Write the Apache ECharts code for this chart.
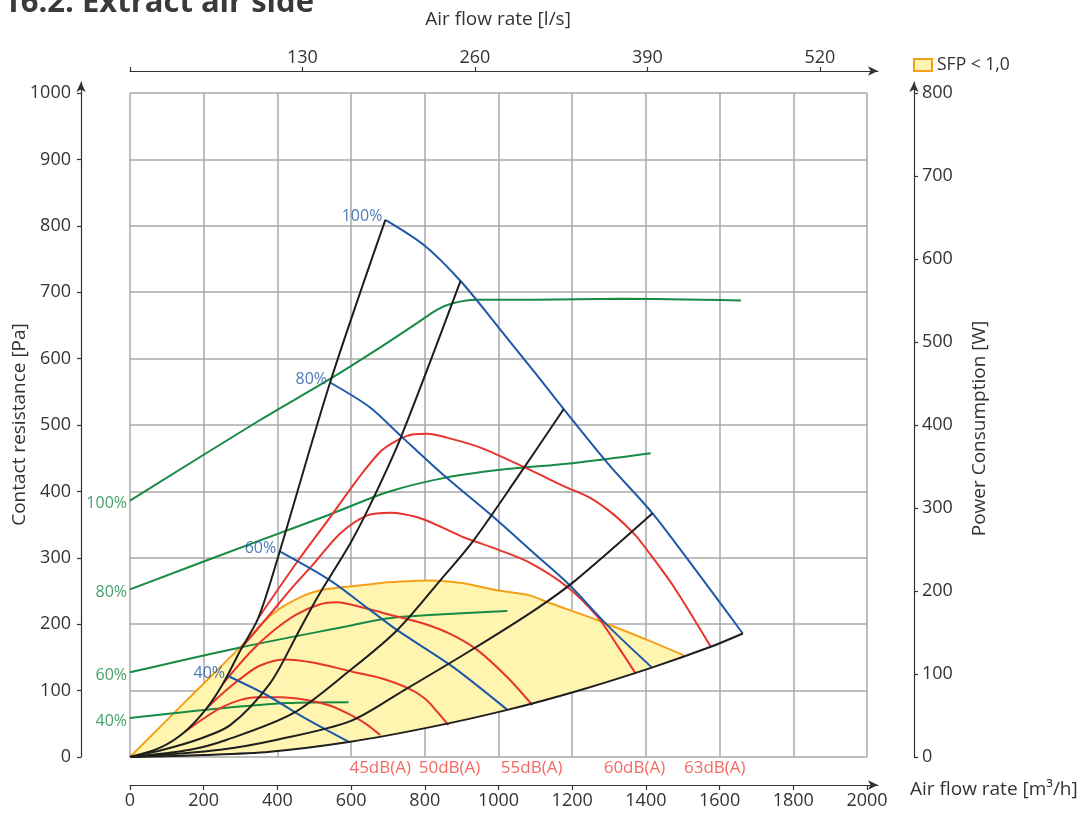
<!DOCTYPE html>
<html>
<head>
<meta charset="utf-8">
<title>16.2. Extract air side</title>
<script src="https://cdn.jsdelivr.net/npm/echarts@6/dist/echarts.min.js"></script>
<style>
    html, body { margin: 0; padding: 0; background: #fff; }
    #chart { width: 1084px; height: 816px; }
</style>
</head>
<body>
<div id="chart"></div>
<script>
    // axis ticks
    const flowTicks = [0, 200, 400, 600, 800, 1000, 1200, 1400, 1600, 1800, 2000]
    const lsTicks = [0, 130, 260, 390, 520]
    const paTicks = [0, 100, 200, 300, 400, 500, 600, 700, 800, 900, 1000]
    const wTicks = [0, 100, 200, 300, 400, 500, 600, 700, 800]

    // fan curves, pressure [Pa] vs flow [m3/h]
    const fan100 = [[693, 809], [800, 770], [900, 715], [1000, 647], [1100, 578], [1177, 524], [1300, 440], [1418, 367], [1540, 278], [1663, 186]]
    const fan80 = [[543, 564], [650, 527], [734, 484], [850, 425], [987, 361], [1100, 305], [1187, 262], [1300, 196], [1416, 135]]
    const fan60 = [[405, 310], [543, 266], [650, 222], [725, 191], [878, 135], [1024, 71]]
    const fan40 = [[266, 122], [372, 93], [470, 60], [593, 23]]
    const fanNames = ['100%', '80%', '60%', '40%']

    // system curves (black)
    const sys1 = [[0, 0], [82, 14], [149, 38], [209, 74], [253, 111], [299, 160], [348, 209], [399, 296], [543, 564], [693, 809]]
    const sys2 = [[0, 0], [90, 11], [182, 26], [272, 48], [380, 111], [454, 185], [508, 240], [598, 322], [652, 380], [734, 480], [897, 717]]
    const sys3 = [[0, 0], [163, 11], [263, 26], [443, 66], [598, 131], [725, 191], [842, 266], [932, 326], [1050, 420], [1177, 524]]
    const sys4 = [[0, 0], [245, 11], [399, 26], [598, 54], [742, 100], [932, 163], [1100, 222], [1209, 266], [1418, 367]]
    const sys5 = [[0, 0], [200, 3], [380, 8], [598, 23], [815, 45], [1024, 71], [1223, 101], [1418, 135], [1576, 166], [1663, 186]]

    // power consumption [W] (green, right axis)
    const pow100 = [[0, 309], [353, 406], [552, 458], [698, 499], [780, 523], [834, 539], [878, 547], [943, 551], [1100, 551], [1332, 552], [1658, 550]]
    const pow80 = [[0, 202], [353, 261], [535, 291], [698, 319], [850, 336], [1005, 346], [1200, 354], [1413, 366]]
    const pow60 = [[0, 102], [299, 132], [606, 159], [698, 167], [850, 172], [1024, 176]]
    const pow40 = [[0, 47], [209, 57], [426, 65], [593, 66]]
    const powNames = ['100%', '80%', '60%', '40%']

    // sound level curves (red)
    const db45 = [[149, 38], [200, 58], [250, 75], [300, 86], [344, 90], [408, 90], [480, 86], [540, 78], [589, 66], [640, 50], [679, 33]]
    const db50 = [[209, 74], [260, 100], [300, 118], [350, 137], [416, 147], [500, 142], [606, 128], [679, 119], [753, 104], [800, 88], [834, 68], [864, 48]]
    const db55 = [[253, 111], [330, 160], [389, 190], [450, 214], [516, 230], [560, 233], [652, 222], [700, 215], [796, 201], [870, 185], [943, 161], [1024, 120], [1092, 78]]
    const db60 = [[299, 162], [380, 215], [440, 255], [497, 290], [571, 337], [644, 364], [707, 368], [780, 361], [850, 345], [905, 331], [1000, 312], [1087, 292], [1187, 256], [1269, 211], [1320, 170], [1372, 126]]
    const db63 = [[348, 209], [454, 294], [543, 361], [620, 420], [680, 460], [725, 477], [770, 486], [807, 487], [860, 481], [951, 466], [1087, 432], [1177, 408], [1250, 390], [1313, 365], [1370, 335], [1404, 311], [1476, 256], [1576, 166]]
    const dbNames = ['45dB(A)', '50dB(A)', '55dB(A)', '60dB(A)', '63dB(A)']
    const dbLabelX = [679, 867, 1090, 1369, 1587]

    // SFP < 1,0 area, upper edge
    const sfpTop = [[0, 0], [155, 86], [318, 176], [361, 203], [408, 224], [460, 240], [497, 248], [535, 253], [633, 259], [700, 263], [815, 266], [900, 262], [997, 251], [1087, 243], [1133, 233], [1269, 206], [1405, 176], [1503, 153]]

    const FONT = 'Open Sans'
    const BLUE = '#1d59a8'
    const GREEN = '#178a45'
    const RED = '#e8342c'
    const BLACK = '#1e1e1e'
    const ORANGE = '#f5a01a'
    const FILL = '#fff5b0'
    const TXT = '#333'

    function curve(data, color, yIdx) {
        return {
            type: 'line', data: data, xAxisIndex: 0, yAxisIndex: yIdx || 0,
            smooth: 0.3, symbol: 'none', silent: true,
            lineStyle: {color: color, width: 2}, z: 3
        }
    }

    // text tags placed through the axes
    function tags(points, names, color, yIdx, pos, offset, size) {
        return {
            type: 'scatter', xAxisIndex: 0, yAxisIndex: yIdx || 0, silent: true, clip: false,
            symbolSize: 0, z: 5,
            data: points.map((p, i) => ({value: p, name: names[i]})),
            label: {
                show: true, position: pos, distance: 3, offset: offset || [0, 0],
                formatter: '{b}', color: color, fontSize: size || 16, fontFamily: FONT
            }
        }
    }

    const axisLineStyle = {color: TXT, width: 1.2}
    const splitStyle = {color: '#a8a8a8', width: 1.5}
    const plain = v => String(v)
    const nameStyle = {fontSize: 19, color: TXT, fontFamily: FONT}

    const option = {
        animation: false,
        title: {
            text: '16.2. Extract air side', left: -2, top: -17,
            textStyle: {fontSize: 31, fontWeight: 'bold', color: '#3a3a3a', fontFamily: FONT}
        },
        legend: {
            data: [{name: 'SFP < 1,0', icon: 'rect', itemStyle: {color: FILL, borderColor: ORANGE, borderWidth: 2}}],
            left: 908, top: 51, itemWidth: 18, itemHeight: 12, selectedMode: false,
            textStyle: {fontSize: 17.5, color: TXT, fontFamily: FONT}
        },
        grid: [
            {left: 130, top: 93, width: 737, height: 664, outerBoundsMode: 'none', containLabel: false},
            {left: 130, top: 82, width: 748, height: 675, outerBoundsMode: 'none', containLabel: false}
        ],
        xAxis: [
            {
                gridIndex: 0, type: 'value', min: 0, max: 2000, interval: 200,
                axisLine: {show: false}, axisTick: {show: false}, axisLabel: {show: false},
                splitLine: {lineStyle: splitStyle}
            },
            {
                gridIndex: 1, type: 'value', position: 'bottom', offset: 28, min: 0, max: 2000 * 748 / 737,
                axisLine: {onZero: false, lineStyle: axisLineStyle, symbol: ['none', 'arrow'], symbolSize: [7, 10]},
                axisTick: {customValues: flowTicks, length: 5, lineStyle: axisLineStyle},
                axisLabel: {customValues: flowTicks, formatter: plain, fontSize: 18, color: TXT, fontFamily: FONT, margin: 7},
                splitLine: {show: false},
                name: 'Air flow rate [m³/h]', nameLocation: 'end', nameGap: 32, nameMoveOverlap: false,
                nameTextStyle: Object.assign({verticalAlign: 'top', lineHeight: 10}, nameStyle)
            },
            {
                gridIndex: 1, type: 'value', position: 'top', offset: 11, min: 0, max: 2000 / 3.6 * 748 / 737,
                axisLine: {onZero: false, lineStyle: axisLineStyle, symbol: ['none', 'arrow'], symbolSize: [7, 10]},
                axisTick: {customValues: lsTicks, length: 4, lineStyle: axisLineStyle},
                axisLabel: {customValues: lsTicks, formatter: v => v === 0 ? '' : String(v), fontSize: 18, color: TXT, fontFamily: FONT, margin: 4},
                splitLine: {show: false},
                name: 'Air flow rate [l/s]', nameLocation: 'middle', nameGap: 42, nameMoveOverlap: false,
                nameTextStyle: Object.assign({padding: [0, 12, 0, 0]}, nameStyle)
            }
        ],
        yAxis: [
            {
                gridIndex: 0, type: 'value', min: 0, max: 1000, interval: 100,
                axisLine: {show: false}, axisTick: {show: false}, axisLabel: {show: false},
                splitLine: {lineStyle: splitStyle}
            },
            {
                gridIndex: 0, type: 'value', min: 0, max: 800, interval: 100, show: false
            },
            {
                gridIndex: 1, type: 'value', position: 'left', offset: 49, min: 0, max: 1000 * 675 / 664,
                axisLine: {show: true, onZero: false, lineStyle: axisLineStyle, symbol: ['none', 'arrow'], symbolSize: [7, 10]},
                axisTick: {show: true, customValues: paTicks, length: 4, lineStyle: axisLineStyle},
                axisLabel: {customValues: paTicks, formatter: plain, fontSize: 18, color: TXT, fontFamily: FONT, margin: 10},
                splitLine: {show: false},
                name: 'Contact resistance [Pa]', nameLocation: 'middle', nameGap: 52, nameRotate: 90, nameMoveOverlap: false,
                nameTextStyle: Object.assign({padding: [0, 10, 0, 0]}, nameStyle)
            },
            {
                gridIndex: 1, type: 'value', position: 'right', offset: 36, min: 0, max: 800 * 675 / 664,
                axisLine: {show: true, onZero: false, lineStyle: axisLineStyle, symbol: ['none', 'arrow'], symbolSize: [7, 10]},
                axisTick: {show: true, customValues: wTicks, length: 4, lineStyle: axisLineStyle},
                axisLabel: {customValues: wTicks, formatter: plain, fontSize: 18, color: TXT, fontFamily: FONT, margin: 8},
                splitLine: {show: false},
                name: 'Power Consumption [W]', nameLocation: 'middle', nameGap: 56, nameRotate: 90, nameMoveOverlap: false,
                nameTextStyle: Object.assign({padding: [0, 18, 0, 0]}, nameStyle)
            }
        ],
        series: [
            {
                type: 'custom', name: 'SFP < 1,0', coordinateSystem: 'cartesian2d', xAxisIndex: 0, yAxisIndex: 0,
                silent: true, z: 1, data: [[0, 0]],
                itemStyle: {color: FILL, borderColor: ORANGE},
                renderItem: function (params, api) {
                    const endX = sfpTop[sfpTop.length - 1][0]
                    const upper = sfpTop.map(p => api.coord(p))
                    const lower = sys5.filter(p => p[0] < endX).reverse().map(p => api.coord(p))
                    return {type: 'polygon', shape: {points: upper.concat(lower)}, style: {fill: FILL}}
                }
            },
            curve(sfpTop, ORANGE),
            curve(pow100, GREEN, 1), curve(pow80, GREEN, 1), curve(pow60, GREEN, 1), curve(pow40, GREEN, 1),
            curve(db45, RED), curve(db50, RED), curve(db55, RED), curve(db60, RED), curve(db63, RED),
            curve(fan100, BLUE), curve(fan80, BLUE), curve(fan60, BLUE), curve(fan40, BLUE),
            curve(sys1, BLACK), curve(sys2, BLACK), curve(sys3, BLACK), curve(sys4, BLACK), curve(sys5, BLACK),
            tags([fan100[0], fan80[0], fan60[0], fan40[0]], fanNames, '#1f58a8', 0, 'left', [0, -3], 16),
            tags([pow100[0], pow80[0], pow60[0], pow40[0]], powNames, GREEN, 1, 'left', [0, 3], 16),
            tags(dbLabelX.map(x => [x, -16.5]), dbNames, '#f0443c', 0, 'inside', [0, 0], 17)
        ]
    }

    const myChart = echarts.init(document.getElementById('chart'))
    myChart.setOption(option)
</script>
</body>
</html>
